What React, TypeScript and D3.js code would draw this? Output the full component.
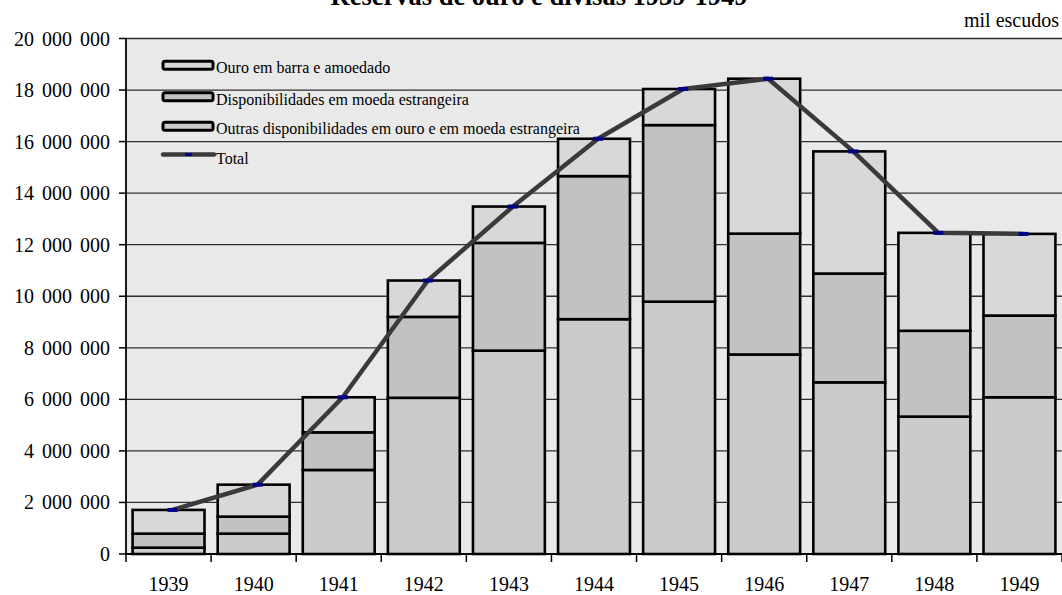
import React from "react";
import * as d3 from "d3";

// Reservas de ouro e divisas, 1939-1949 (mil escudos)
const years = ["1939", "1940", "1941", "1942", "1943", "1944", "1945", "1946", "1947", "1948", "1949"];

// stacked from the bottom up
const outras = [245000, 790000, 3260000, 6060000, 7890000, 9110000, 9790000, 7740000, 6660000, 5330000, 6080000];
const disponibilidades = [545000, 660000, 1460000, 3140000, 4180000, 5550000, 6850000, 4690000, 4220000, 3330000, 3170000];
const ouro = [920000, 1240000, 1360000, 1410000, 1410000, 1450000, 1400000, 6010000, 4740000, 3800000, 3170000];

const yTicks = [0, 2000000, 4000000, 6000000, 8000000, 10000000, 12000000, 14000000, 16000000, 18000000, 20000000];

const seriesNames = [
  "Ouro em barra e amoedado",
  "Disponibilidades em moeda estrangeira",
  "Outras disponibilidades em ouro e em moeda estrangeira",
];

const W = 1062;
const H = 595;
const plot = { left: 126, right: 1062, top: 38.5, bottom: 554 };

const colOuro = "#d8d8d8";
const colDisp = "#c2c2c2";
const colOutras = "#cbcbcb";
const serif = "Liberation Serif, Times New Roman, serif";
const txt = { fontFamily: serif };

const fmt = d3
  .formatLocale({ thousands: " ", grouping: [3], decimal: ",", currency: ["", ""] })
  .format(",d");

export default function App() {
  const x = d3
    .scaleBand<string>()
    .domain(years)
    .range([plot.left, plot.right])
    .paddingInner(0.155)
    .paddingOuter(0.0775);
  const y = d3.scaleLinear().domain([0, 20000000]).range([plot.bottom, plot.top]);
  const step = x.step();

  const rows = years.map((yr, i) => ({
    year: yr,
    outras: outras[i],
    disponibilidades: disponibilidades[i],
    ouro: ouro[i],
  }));
  const stack = d3.stack<any>().keys(["outras", "disponibilidades", "ouro"])(rows);
  const fills: Record<string, string> = { outras: colOutras, disponibilidades: colDisp, ouro: colOuro };

  const totals = years.map((_, i) => outras[i] + disponibilidades[i] + ouro[i]);
  const markerShift = 4;
  const line = d3
    .line<number>()
    .x((_, i) => (x(years[i]) as number) + x.bandwidth() / 2 + markerShift)
    .y((d) => y(d));

  const legendX = 163;
  const legendRows = [65.3, 96.7, 126.3, 154.5];
  const legendFills = [colOuro, colDisp, colOutras];

  return (
    <svg
      width={W}
      height={H}
      style={{ position: "absolute", left: 0, top: 0, background: "#ffffff" }}
    >
      {/* plot area */}
      <rect x={plot.left} y={plot.top} width={plot.right - plot.left} height={plot.bottom - plot.top} fill="#e9e9e9" />

      {/* gridlines */}
      {yTicks.map((t) => (
        <line key={t} x1={plot.left} x2={plot.right} y1={y(t)} y2={y(t)} stroke="#303030" strokeWidth={1.3} />
      ))}

      {/* title and unit */}
      <text x={539} y={5} textAnchor="middle" fontSize={26.5} fontWeight="bold" fill="#000" style={txt}>
        Reservas de ouro e divisas 1939-1949
      </text>
      <text x={1059} y={27} textAnchor="end" fontSize={20} fill="#000" style={txt}>
        mil escudos
      </text>

      {/* stacked bars */}
      {stack.map((layer) => (
        <g key={layer.key} fill={fills[layer.key]} stroke="#000" strokeWidth={2.6}>
          {layer.map((d, i) => (
            <rect
              key={years[i]}
              x={x(years[i])}
              y={y(d[1])}
              width={x.bandwidth()}
              height={y(d[0]) - y(d[1])}
            />
          ))}
        </g>
      ))}

      {/* total line */}
      <path d={line(totals) || ""} fill="none" stroke="#3a3a3a" strokeWidth={4.5} strokeLinejoin="round" />
      {totals.map((t, i) => (
        <rect
          key={years[i]}
          x={(x(years[i]) as number) + x.bandwidth() / 2 + markerShift - 5}
          y={y(t) - 2}
          width={10}
          height={4}
          fill="#000088"
        />
      ))}

      {/* axes */}
      <line x1={plot.left} x2={plot.left} y1={plot.top} y2={plot.bottom} stroke="#000" strokeWidth={1.8} />
      <line x1={plot.left} x2={plot.right} y1={plot.bottom} y2={plot.bottom} stroke="#000" strokeWidth={2.2} />
      {yTicks.map((t) => (
        <g key={t}>
          <line x1={plot.left - 7} x2={plot.left} y1={y(t)} y2={y(t)} stroke="#000" strokeWidth={1.5} />
          <text
            x={110}
            y={y(t)}
            dy="0.35em"
            textAnchor="end"
            fontSize={20}
            fill="#000"
            style={{ ...txt, wordSpacing: "3px" }}
          >
            {fmt(t)}
          </text>
        </g>
      ))}
      {d3.range(years.length + 1).map((i) => {
        const tx = plot.left + i * step;
        return <line key={i} x1={tx} x2={tx} y1={plot.bottom} y2={plot.bottom + 8} stroke="#000" strokeWidth={1.5} />;
      })}
      {years.map((yr) => (
        <text
          key={yr}
          x={(x(yr) as number) + x.bandwidth() / 2}
          y={591}
          textAnchor="middle"
          fontSize={20}
          fill="#000"
          style={txt}
        >
          {yr}
        </text>
      ))}

      {/* legend */}
      {seriesNames.map((name, i) => (
        <g key={name}>
          <rect
            x={legendX}
            y={legendRows[i] - 4}
            width={50}
            height={8}
            rx={2}
            fill={legendFills[i]}
            stroke="#000"
            strokeWidth={3}
          />
          <text x={216} y={legendRows[i] + 8} fontSize={16} fill="#000" style={txt}>
            {name}
          </text>
        </g>
      ))}
      <line
        x1={legendX}
        x2={legendX + 51}
        y1={legendRows[3]}
        y2={legendRows[3]}
        stroke="#3a3a3a"
        strokeWidth={4.5}
        strokeLinecap="round"
      />
      <rect x={legendX + 22} y={legendRows[3] - 1.5} width={7} height={3} fill="#000088" />
      <text x={216} y={legendRows[3] + 9} fontSize={16} fill="#000" style={txt}>
        Total
      </text>
    </svg>
  );
}
